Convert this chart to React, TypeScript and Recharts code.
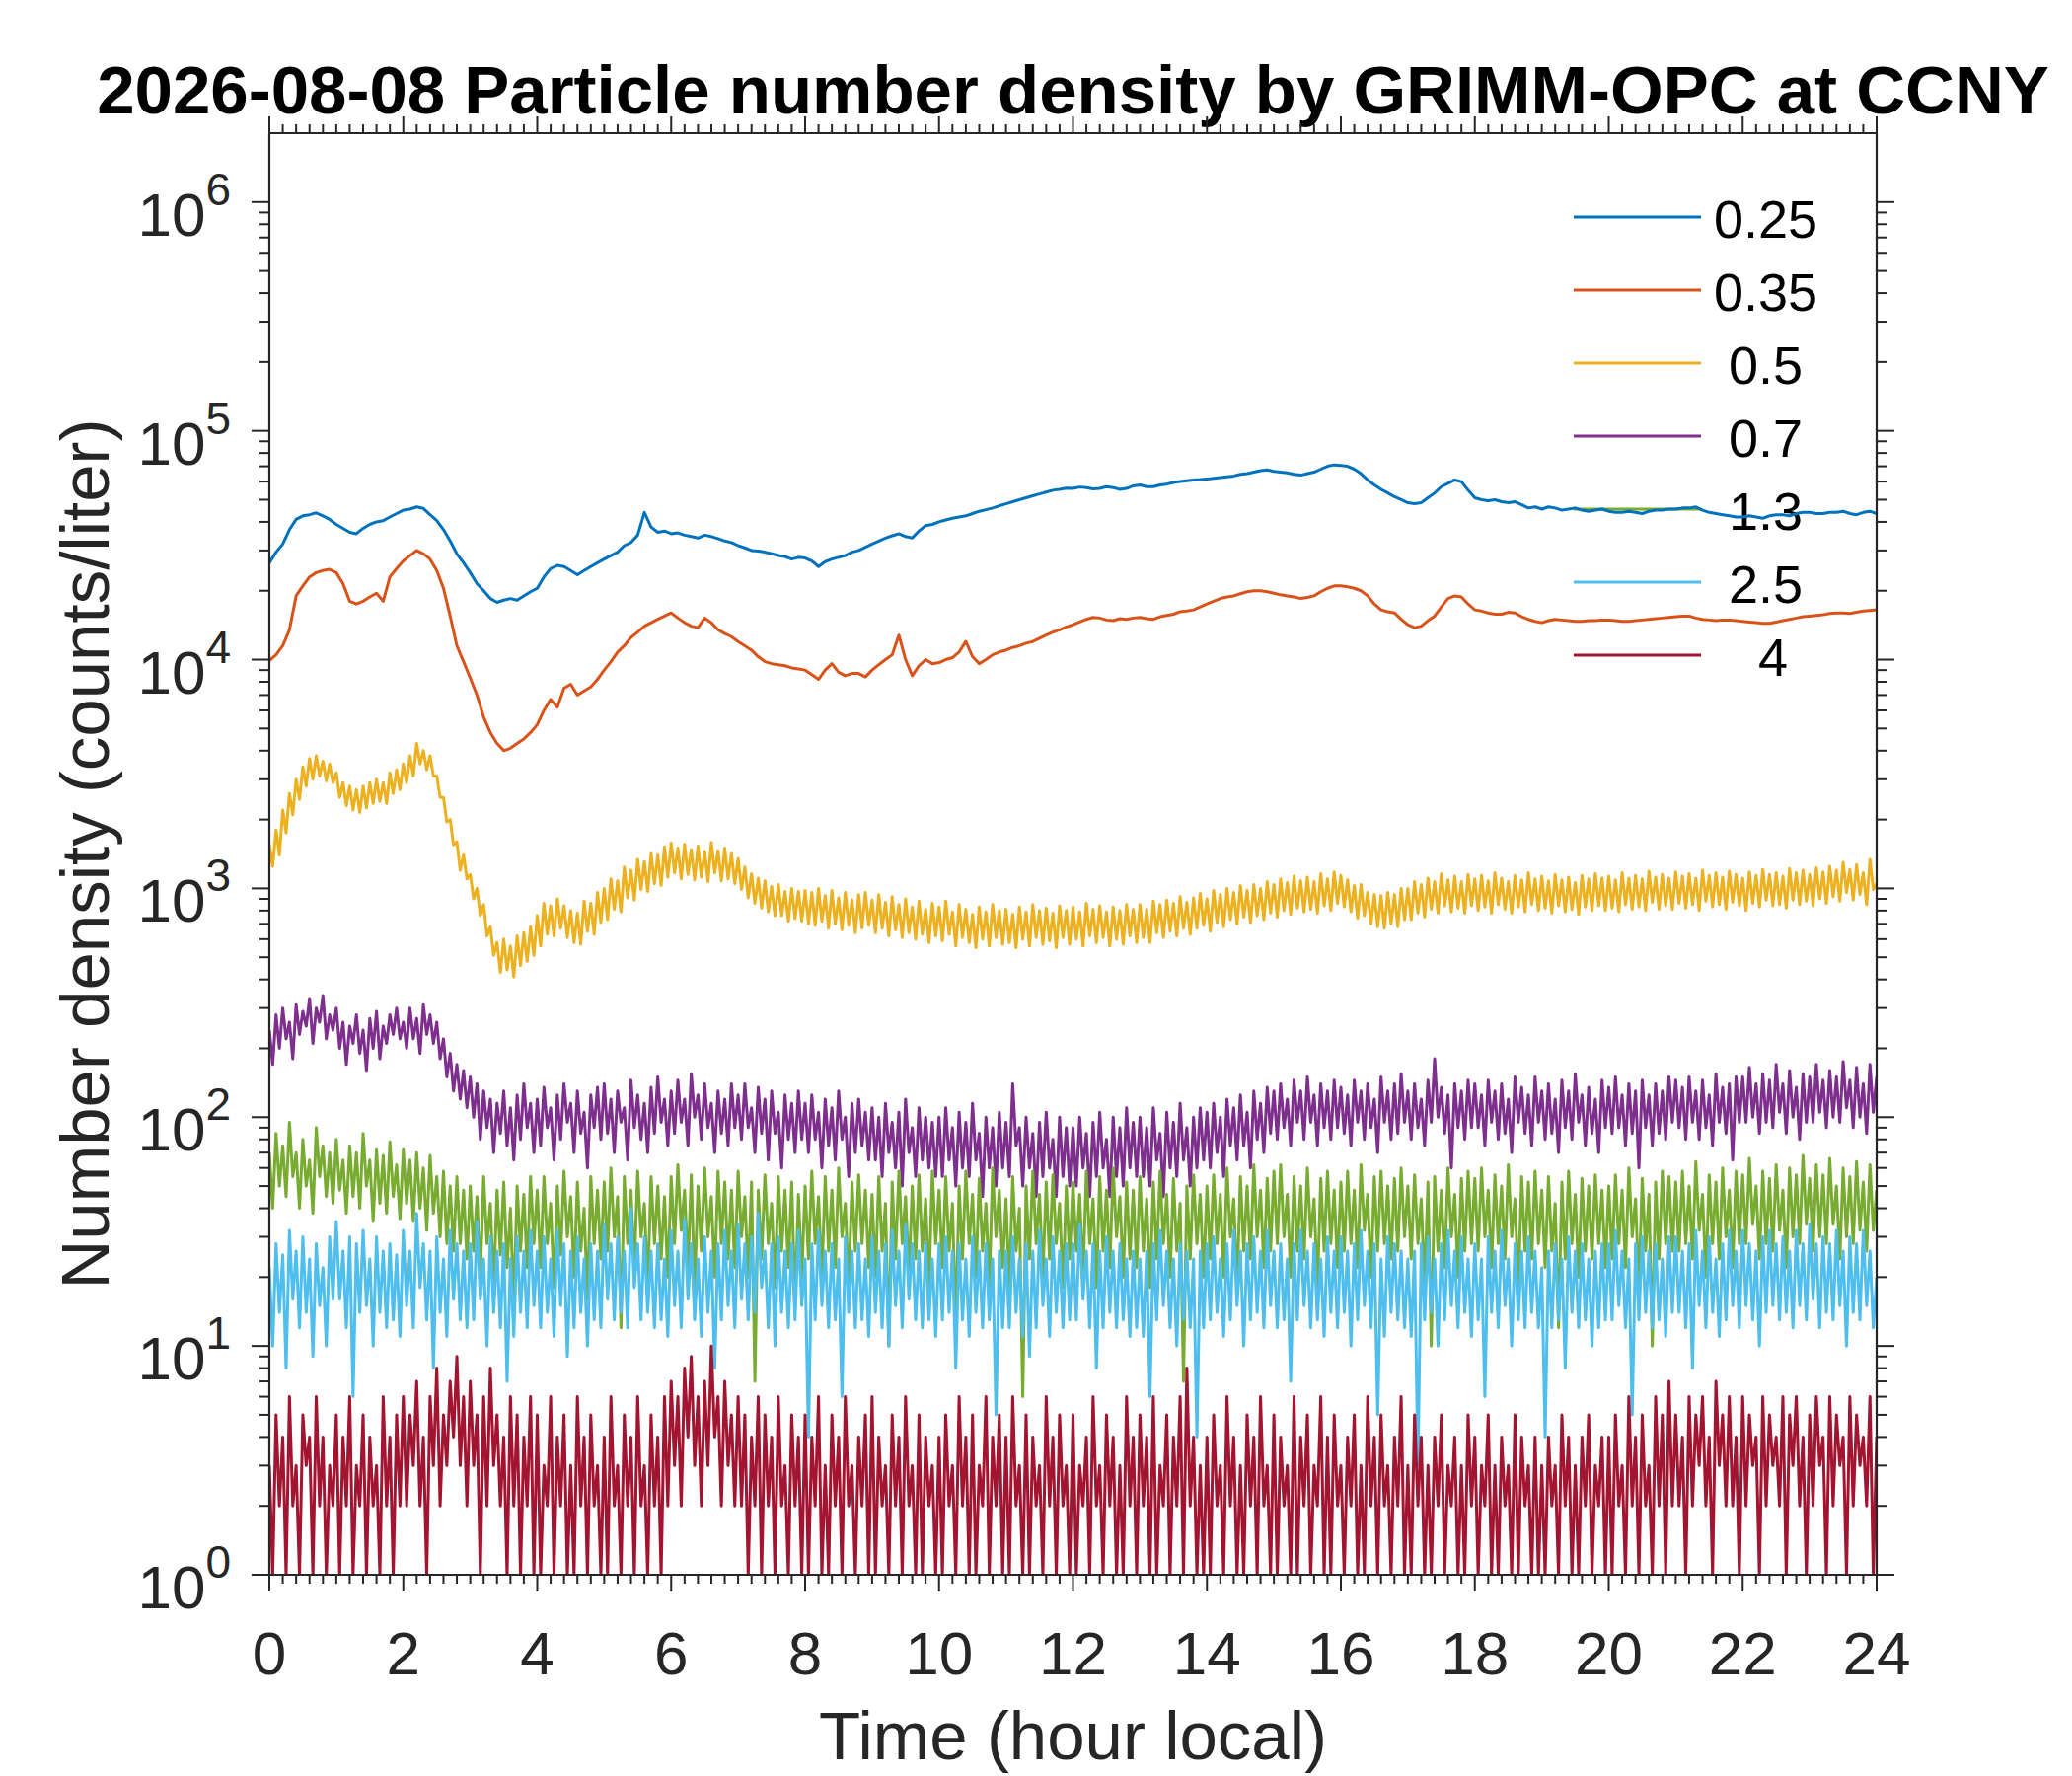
import React from 'react';
import { LineChart, Line, XAxis, YAxis, Customized } from 'recharts';

// ---------- layout / style constants ----------
const W = 2100;
const H = 1800;
const PLOT_LEFT = 273;
const PLOT_RIGHT = 1902;
const PLOT_TOP = 135;
const PLOT_BOTTOM = 1596;
const AXIS_COLOR = '#262626';
const FONT = '"Liberation Sans", Arial, Helvetica, sans-serif';
const LINE_W = 3;

// ---------- data ----------
const TITLE = '2026-08-08 Particle number density by GRIMM-OPC at CCNY';
const X_LABEL = 'Time (hour local)';
const Y_LABEL = 'Number density (counts/liter)';

const SERIES_KEYS = ['d025', 'd035', 'd05', 'd07', 'd13', 'd25', 'd4'];
const SERIES_LABELS = ['0.25', '0.35', ' 0.5', ' 0.7', ' 1.3', ' 2.5', '   4'];
const SERIES_COLORS = ['#0072BD', '#D95319', '#EDB120', '#7E2F8E', '#77AC30', '#4DBEEE', '#A2142F'];

// sampling: noisy channels every 0.05 h, smoother channels every 0.1 h
const FINE_STEP_H = 0.05;
const COARSE_EVERY = 2;

// 0.25 um channel, t = 0, 0.1, ..., 24 (one row per hour)
const D025 = [
  26500, 29500, 32000, 37000, 41000, 42500, 43000, 43800, 42500, 41000,
  39000, 37500, 36000, 35500, 37500, 39000, 40000, 40500, 42000, 43500,
  45000, 45500, 46500, 45800, 43000, 40500, 37000, 33000, 29000, 26500,
  24000, 21500, 20000, 18500, 17800, 18200, 18500, 18200, 19000, 19800,
  20500, 23000, 25000, 25800, 25500, 24500, 23500, 24500, 25500, 26500,
  27500, 28500, 29500, 31500, 32500, 35000, 44000, 38000, 36000, 36500,
  35500, 35800, 35000, 34500, 34000, 35000, 34500, 33800, 33000, 32500,
  31500, 30800, 30000, 29800, 29500, 29000, 28500, 28200, 27500, 28000,
  27800, 27000, 25500, 26800, 27500, 28000, 28500, 29500, 30000, 31000,
  32000, 33000, 34000, 34800, 35500, 34500, 34000, 36500, 38500, 39000,
  40000, 40800, 41500, 42000, 42500, 43500, 44500, 45200, 46000, 47000,
  48000, 49000, 50000, 51000, 52000, 53000, 54000, 55000, 55500, 56200,
  56000, 56800, 56500, 55800, 56000, 57000, 56500, 55500, 56000, 57500,
  58000, 57000, 57000, 58000, 58500, 59500, 60000, 60500, 61000, 61200,
  61500, 62000, 62500, 63000, 63500, 64500, 65000, 66000, 67000, 67500,
  66500, 66000, 65500, 64500, 64000, 65000, 66000, 68000, 70000, 71000,
  70500, 70000, 68000, 65000, 61000, 58000, 55500, 53500, 51500, 50000,
  48500, 48000, 48500, 51000, 53500, 57000, 59000, 61000, 60000, 55000,
  51000, 50000, 49500, 50000, 49000, 48500, 49000, 47500, 46000, 46500,
  45500, 46500, 46000, 45000, 45500, 46000, 45000, 44500, 45000, 45500,
  44500, 44000, 44000, 44500, 44000, 43500, 44500, 45000, 45000, 45500,
  45500, 46000, 46000, 46500, 45000, 44000, 43500, 43000, 42500, 42000,
  42000, 42500, 42000, 41500, 42500, 43000, 43000, 42500, 43500, 44000,
  44000, 43500, 43500, 44000, 44000, 44500, 43500, 43000, 44000, 44500,
  43500,
];

// 0.35 um channel, t = 0, 0.1, ..., 24
const D035 = [
  9900, 10500, 11500, 13500, 19000, 21000, 23000, 24000, 24500, 24800,
  24000, 21500, 18000, 17500, 18000, 18800, 19500, 18000, 23000, 25000,
  27000, 28500, 30000, 29000, 27500, 24500, 20500, 15500, 11500, 9800,
  8300, 7000, 5600, 4800, 4300, 4000, 4100, 4300, 4500, 4800,
  5200, 6000, 6700, 6200, 7500, 7800, 7000, 7300, 7600, 8200,
  9000, 9800, 10800, 11500, 12500, 13200, 14000, 14500, 15000, 15500,
  16000, 15200, 14500, 14000, 13800, 15200, 14500, 13500, 13000, 12600,
  12000, 11500, 11000, 10300, 9800, 9600, 9500, 9400, 9200, 9100,
  9000, 8600, 8200, 9000, 9600, 8800, 8500, 8700, 8700, 8400,
  9000, 9500, 10000, 10500, 12800, 10000, 8500, 9400, 10000, 9600,
  9700, 10000, 10200, 10800, 12000, 10300, 9600, 10000, 10500, 10800,
  11000, 11300, 11500, 11800, 12000, 12400, 12800, 13200, 13500, 13900,
  14200, 14600, 15000, 15300, 15200, 14900, 14800, 15100, 15000, 15200,
  15300, 15100, 15000, 15400, 15600, 15800, 16200, 16300, 16500, 17000,
  17500, 18000, 18500, 18800, 19000, 19400, 19800, 20000, 20000, 19800,
  19500, 19200, 19000, 18800, 18500, 18700, 19000, 19800, 20500, 21000,
  21000, 20800, 20500, 20000, 19000, 17500, 16500, 16200, 16000, 15000,
  14200, 13800, 14000, 14800, 15500, 17000, 18500, 19000, 18800, 17500,
  16500, 16300, 16000, 15800, 15800, 16100, 16000, 15400, 15000, 14700,
  14500, 14800, 15000, 14900, 14800, 14700, 14700, 14800, 14800, 14900,
  14900, 14800, 14700, 14700, 14800, 14900, 15000, 15100, 15200, 15300,
  15400, 15500, 15500, 15200, 15000, 14900, 14800, 14900, 14900, 14800,
  14700, 14600, 14500, 14400, 14400, 14600, 14800, 15000, 15200, 15400,
  15500, 15600, 15700, 15900, 16000, 16000, 15900, 16100, 16300, 16400,
  16500,
];

// 0.5 um channel, t = 0, 0.05, ..., 24 (one row per hour)
const D05 = [
  1550, 1250, 1800, 1400, 2200, 1750, 2600, 2100, 3000, 2450, 3400, 2800, 3700, 3000, 3800, 3100, 3600, 2950, 3500, 2900,
  3200, 2500, 2900, 2300, 2800, 2200, 2700, 2150, 2800, 2250, 2900, 2350, 3000, 2400, 2900, 2350, 3200, 2600, 3300, 2700,
  3500, 2900, 3800, 3100, 4300, 3500, 4000, 3300, 3800, 3100, 3100, 2500, 2500, 1950, 2000, 1550, 1600, 1200, 1400, 1100,
  1150, 900, 1000, 760, 850, 620, 680, 510, 580, 430, 600, 440, 560, 410, 620, 460, 640, 480, 680, 510,
  760, 560, 860, 630, 840, 620, 900, 670, 840, 610, 800, 580, 780, 570, 880, 650, 860, 630, 960, 710,
  1000, 730, 1100, 810, 1080, 790, 1240, 910, 1200, 890, 1340, 990, 1310, 970, 1420, 1050, 1400, 1030, 1520, 1120,
  1580, 1170, 1500, 1100, 1560, 1150, 1480, 1090, 1530, 1120, 1450, 1070, 1590, 1170, 1460, 1080, 1500, 1100, 1420, 1050,
  1350, 990, 1240, 910, 1160, 860, 1110, 820, 1080, 790, 1020, 760, 1040, 760, 970, 720, 1000, 740, 970, 720,
  980, 700, 960, 690, 1000, 720, 930, 670, 980, 700, 910, 660, 960, 690, 890, 640, 940, 670, 960, 690,
  890, 640, 940, 670, 870, 620, 920, 660, 850, 610, 900, 640, 830, 600, 880, 630, 810, 580, 860, 620,
  830, 590, 880, 630, 790, 560, 850, 610, 810, 580, 770, 550, 830, 600, 790, 560, 850, 610, 800, 570,
  810, 580, 770, 550, 830, 600, 790, 560, 850, 610, 800, 570, 820, 590, 780, 550, 840, 610, 800, 570,
  830, 600, 790, 560, 860, 620, 810, 580, 840, 610, 790, 560, 830, 600, 800, 570, 850, 620, 810, 580,
  850, 610, 810, 580, 880, 640, 850, 610, 890, 650, 860, 620, 920, 670, 870, 630, 910, 670, 950, 690,
  900, 650, 980, 710, 940, 680, 1000, 730, 960, 700, 1030, 750, 980, 710, 1040, 760, 1000, 730, 1070, 780,
  1040, 750, 1100, 800, 1060, 770, 1130, 820, 1080, 790, 1120, 810, 1070, 780, 1160, 840, 1100, 800, 1180, 860,
  1140, 830, 1090, 790, 1030, 740, 1040, 760, 960, 700, 940, 680, 930, 670, 960, 700, 940, 680, 1000, 730,
  1000, 730, 1070, 780, 1040, 750, 1110, 810, 1070, 780, 1160, 840, 1090, 790, 1130, 820, 1070, 780, 1150, 840,
  1100, 800, 1140, 830, 1080, 780, 1170, 850, 1110, 810, 1070, 780, 1140, 830, 1090, 790, 1170, 850, 1100, 800,
  1130, 820, 1080, 780, 1150, 840, 1090, 790, 1120, 810, 1060, 770, 1140, 830, 1100, 800, 1160, 840, 1110, 800,
  1130, 820, 1090, 790, 1170, 850, 1110, 810, 1140, 830, 1100, 800, 1190, 870, 1120, 810, 1150, 840, 1110, 810,
  1180, 860, 1130, 820, 1160, 850, 1110, 800, 1200, 880, 1140, 830, 1170, 850, 1120, 810, 1190, 870, 1150, 840,
  1110, 800, 1180, 860, 1140, 830, 1210, 890, 1150, 840, 1170, 850, 1130, 820, 1220, 890, 1170, 850, 1200, 880,
  1150, 840, 1230, 900, 1180, 860, 1250, 920, 1200, 880, 1300, 960, 1210, 890, 1270, 940, 1170, 850, 1340, 990,
  1050,
];

// 0.7 um channel, t = 0, 0.05, ..., 24
const D07 = [
  240, 170, 280, 200, 300, 220, 260, 180, 310, 230, 290, 250, 330, 210, 300, 260, 340, 220, 280, 240,
  300, 200, 260, 170, 250, 210, 280, 190, 240, 160, 270, 200, 290, 180, 250, 210, 280, 230, 300, 220,
  260, 200, 300, 220, 270, 190, 310, 230, 280, 210, 260, 180, 220, 150, 190, 130, 170, 120, 160, 110,
  150, 100, 140, 80, 130, 90, 120, 70, 115, 85, 130, 75, 110, 65, 125, 80, 140, 90, 115, 70,
  120, 75, 135, 90, 110, 65, 125, 80, 140, 95, 115, 70, 130, 85, 105, 60, 125, 90, 135, 80,
  140, 85, 120, 70, 130, 95, 110, 65, 145, 90, 125, 80, 115, 70, 135, 85, 150, 95, 120, 75,
  130, 85, 145, 95, 120, 75, 155, 100, 125, 80, 140, 90, 115, 70, 130, 85, 120, 75, 140, 90,
  125, 80, 140, 90, 110, 70, 135, 85, 120, 65, 130, 85, 105, 60, 125, 80, 115, 70, 130, 80,
  115, 70, 125, 80, 105, 60, 120, 75, 110, 65, 130, 80, 100, 55, 115, 70, 120, 75, 105, 65,
  110, 65, 100, 55, 115, 70, 95, 60, 105, 50, 120, 70, 90, 55, 110, 65, 100, 60, 95, 55,
  100, 55, 110, 65, 90, 50, 105, 60, 95, 55, 115, 65, 85, 45, 100, 60, 90, 50, 105, 60,
  95, 55, 140, 75, 90, 50, 100, 60, 85, 45, 95, 55, 105, 60, 80, 45, 100, 55, 90, 50,
  90, 50, 100, 60, 85, 45, 95, 55, 105, 60, 80, 45, 100, 55, 90, 50, 110, 60, 95, 55,
  100, 55, 90, 50, 110, 65, 85, 45, 105, 60, 95, 55, 115, 65, 90, 50, 100, 60, 110, 65,
  105, 60, 115, 70, 100, 55, 120, 75, 110, 65, 125, 75, 105, 60, 130, 80, 115, 70, 135, 85,
  130, 80, 140, 90, 120, 75, 145, 95, 130, 80, 150, 95, 125, 75, 140, 90, 130, 80, 145, 90,
  135, 85, 125, 75, 145, 95, 130, 80, 140, 90, 120, 70, 150, 95, 130, 80, 140, 85, 155, 95,
  130, 80, 140, 90, 120, 75, 145, 95, 180, 100, 135, 85, 125, 60, 140, 90, 130, 80, 145, 90,
  140, 90, 125, 75, 145, 95, 130, 80, 140, 85, 120, 70, 150, 95, 135, 85, 125, 75, 150, 95,
  130, 80, 140, 85, 120, 70, 145, 90, 130, 80, 155, 95, 125, 75, 135, 85, 120, 70, 145, 90,
  135, 85, 150, 90, 125, 75, 140, 85, 130, 60, 145, 90, 125, 75, 140, 85, 130, 80, 150, 95,
  145, 90, 135, 80, 150, 95, 130, 80, 145, 90, 125, 75, 155, 95, 135, 85, 140, 65, 150, 95,
  150, 95, 165, 100, 140, 85, 155, 95, 145, 90, 170, 105, 140, 85, 160, 100, 135, 80, 155, 95,
  150, 95, 170, 105, 145, 90, 160, 100, 150, 95, 175, 110, 145, 90, 165, 100, 140, 85, 170, 105,
  150,
];

// 1.3 um channel, t = 0, 0.05, ..., 24
const D13 = [
  70, 40, 85, 50, 75, 45, 95, 55, 70, 40, 80, 50, 65, 38, 90, 55, 75, 45, 70, 42,
  80, 48, 65, 38, 75, 45, 70, 40, 85, 50, 65, 35, 72, 42, 68, 38, 78, 45, 62, 36,
  72, 42, 65, 35, 70, 40, 60, 32, 68, 38, 55, 30, 58, 28, 50, 26, 55, 28, 48, 24,
  50, 26, 45, 20, 55, 28, 42, 18, 48, 25, 52, 22, 40, 15, 50, 26, 46, 22, 55, 28,
  48, 22, 55, 28, 42, 18, 50, 25, 58, 30, 45, 20, 52, 26, 40, 16, 55, 28, 48, 24,
  52, 26, 60, 30, 45, 12, 55, 28, 48, 22, 58, 30, 42, 18, 55, 28, 50, 24, 45, 20,
  55, 28, 62, 32, 48, 22, 56, 18, 50, 26, 60, 30, 45, 20, 58, 28, 52, 24, 48, 22,
  58, 30, 45, 20, 52, 7, 48, 24, 56, 28, 42, 18, 55, 26, 48, 22, 52, 15, 46, 20,
  50, 24, 58, 28, 45, 20, 55, 26, 48, 22, 60, 30, 42, 18, 52, 26, 56, 28, 48, 22,
  46, 20, 55, 26, 42, 10, 52, 24, 58, 28, 45, 20, 50, 24, 56, 26, 44, 18, 58, 28,
  48, 22, 55, 26, 42, 12, 50, 24, 58, 28, 46, 20, 54, 26, 42, 18, 60, 30, 48, 22,
  44, 18, 55, 26, 40, 6, 50, 24, 58, 28, 46, 20, 52, 24, 56, 28, 42, 18, 50, 24,
  52, 26, 46, 20, 58, 28, 44, 18, 55, 26, 48, 22, 60, 30, 45, 20, 52, 24, 48, 22,
  55, 26, 44, 18, 52, 24, 58, 28, 46, 20, 54, 26, 42, 7, 50, 24, 56, 28, 46, 20,
  50, 24, 56, 28, 46, 20, 60, 30, 44, 18, 55, 26, 50, 24, 62, 30, 48, 22, 54, 26,
  58, 28, 62, 30, 46, 20, 55, 26, 50, 24, 60, 30, 44, 18, 54, 26, 58, 28, 48, 22,
  52, 26, 58, 28, 48, 22, 62, 32, 46, 20, 55, 26, 58, 28, 50, 24, 54, 26, 60, 30,
  50, 24, 56, 28, 44, 18, 52, 10, 55, 26, 48, 22, 60, 30, 46, 20, 54, 26, 58, 28,
  54, 26, 60, 30, 48, 22, 56, 28, 50, 24, 62, 30, 44, 18, 55, 26, 52, 24, 58, 28,
  48, 22, 55, 26, 42, 12, 52, 24, 58, 28, 46, 20, 54, 26, 50, 24, 56, 28, 48, 22,
  50, 24, 56, 28, 48, 22, 60, 30, 44, 18, 54, 26, 46, 10, 52, 24, 58, 28, 55, 26,
  52, 26, 58, 28, 50, 24, 64, 32, 46, 20, 56, 28, 52, 24, 60, 30, 48, 22, 58, 28,
  56, 28, 66, 34, 50, 24, 58, 28, 54, 26, 62, 32, 48, 22, 60, 30, 56, 28, 68, 34,
  54, 26, 62, 30, 56, 28, 66, 34, 50, 24, 60, 30, 55, 28, 64, 32, 52, 26, 62, 32,
  48,
];

// 2.5 um channel, t = 0, 0.05, ..., 24
const D25 = [
  22, 10, 28, 14, 25, 8, 32, 16, 26, 12, 30, 14, 24, 9, 28, 15, 22, 10, 30, 16,
  35, 16, 26, 12, 30, 6, 28, 14, 32, 15, 24, 10, 30, 14, 26, 12, 28, 13, 25, 11,
  32, 15, 26, 12, 38, 18, 28, 13, 26, 8, 30, 14, 24, 11, 32, 16, 28, 13, 26, 12,
  28, 13, 35, 16, 24, 10, 30, 14, 26, 12, 28, 7, 24, 11, 30, 14, 26, 12, 32, 15,
  26, 12, 30, 14, 24, 11, 32, 15, 28, 9, 26, 12, 30, 14, 24, 10, 28, 13, 26, 12,
  34, 16, 28, 13, 30, 14, 26, 12, 40, 18, 28, 13, 30, 14, 26, 12, 28, 13, 24, 11,
  32, 15, 26, 12, 36, 16, 28, 13, 24, 11, 30, 14, 26, 8, 28, 13, 32, 15, 26, 12,
  34, 16, 28, 13, 30, 14, 38, 18, 26, 12, 28, 10, 30, 14, 26, 12, 28, 13, 32, 15,
  24, 4, 28, 13, 32, 15, 26, 12, 28, 13, 24, 6, 30, 14, 26, 12, 28, 13, 24, 11,
  30, 14, 26, 12, 28, 10, 32, 15, 26, 12, 34, 16, 28, 13, 26, 12, 28, 13, 24, 11,
  28, 13, 30, 14, 26, 8, 28, 13, 24, 11, 30, 14, 26, 12, 28, 13, 24, 5, 26, 12,
  26, 12, 30, 14, 24, 11, 28, 9, 26, 12, 32, 15, 24, 11, 30, 14, 26, 12, 28, 13,
  28, 13, 34, 16, 26, 12, 28, 8, 26, 12, 30, 14, 26, 12, 28, 13, 24, 11, 26, 12,
  24, 11, 26, 6, 28, 13, 32, 15, 26, 12, 24, 10, 28, 13, 26, 12, 24, 4, 26, 12,
  28, 13, 30, 14, 24, 11, 28, 13, 32, 15, 26, 10, 28, 13, 30, 14, 26, 12, 32, 15,
  26, 12, 28, 13, 24, 7, 28, 13, 32, 15, 26, 12, 28, 13, 24, 11, 30, 14, 26, 12,
  30, 14, 26, 10, 28, 13, 32, 15, 26, 12, 28, 5, 24, 11, 30, 14, 28, 13, 26, 12,
  24, 11, 26, 3, 28, 13, 30, 14, 24, 10, 28, 13, 32, 15, 26, 12, 30, 14, 24, 11,
  28, 13, 24, 6, 30, 14, 26, 12, 32, 15, 24, 10, 28, 13, 26, 12, 30, 14, 26, 12,
  22, 4, 26, 12, 28, 13, 24, 8, 30, 14, 26, 12, 28, 13, 24, 10, 26, 12, 28, 13,
  28, 13, 32, 15, 26, 12, 24, 5, 28, 13, 30, 14, 26, 12, 28, 13, 24, 11, 30, 14,
  30, 14, 26, 12, 28, 8, 32, 15, 26, 12, 30, 14, 24, 11, 28, 13, 32, 15, 26, 12,
  32, 15, 28, 13, 26, 10, 30, 14, 32, 15, 28, 13, 30, 14, 26, 12, 32, 15, 28, 13,
  34, 16, 28, 12, 30, 14, 28, 13, 32, 15, 26, 10, 30, 14, 28, 13, 32, 15, 26, 12,
  20,
];

// 4 um channel, t = 0, 0.05, ..., 24
const D4 = [
  3, 1, 5, 2, 4, 1, 6, 2, 3, 1, 5, 3, 4, 1, 6, 2, 4, 1, 3, 2,
  5, 1, 4, 2, 6, 1, 3, 2, 5, 1, 4, 2, 3, 1, 6, 2, 4, 1, 5, 2,
  6, 2, 5, 3, 7, 2, 4, 1, 6, 3, 8, 2, 5, 3, 7, 4, 9, 3, 6, 2,
  7, 3, 5, 1, 6, 2, 8, 3, 5, 2, 4, 1, 6, 2, 5, 1, 4, 2, 6, 1,
  5, 1, 3, 2, 6, 1, 4, 2, 5, 1, 3, 1, 6, 2, 4, 1, 5, 2, 3, 1,
  4, 1, 6, 2, 3, 1, 5, 2, 4, 1, 6, 2, 3, 1, 5, 2, 4, 1, 6, 2,
  7, 3, 6, 2, 8, 4, 9, 3, 6, 2, 7, 3, 10, 4, 6, 2, 7, 3, 5, 2,
  6, 2, 5, 1, 4, 2, 6, 1, 5, 2, 4, 1, 6, 2, 3, 1, 5, 2, 4, 1,
  5, 1, 4, 2, 6, 1, 3, 1, 5, 2, 4, 1, 6, 2, 3, 1, 4, 2, 5, 1,
  6, 1, 4, 2, 3, 1, 5, 2, 4, 1, 6, 2, 3, 1, 5, 1, 4, 2, 3, 1,
  4, 1, 5, 2, 3, 1, 6, 2, 4, 1, 5, 1, 3, 2, 6, 1, 4, 2, 5, 1,
  4, 1, 6, 2, 3, 1, 5, 1, 4, 2, 3, 1, 6, 2, 4, 1, 5, 2, 3, 1,
  5, 1, 3, 2, 4, 1, 6, 2, 3, 1, 5, 2, 4, 1, 3, 1, 6, 2, 4, 1,
  5, 2, 4, 1, 6, 1, 3, 2, 5, 1, 4, 2, 6, 1, 8, 2, 4, 1, 3, 1,
  4, 1, 5, 2, 3, 1, 6, 2, 4, 1, 3, 1, 5, 2, 4, 1, 6, 2, 3, 1,
  5, 1, 4, 2, 3, 1, 6, 1, 4, 2, 5, 1, 3, 2, 6, 1, 4, 1, 5, 2,
  3, 1, 4, 2, 5, 1, 3, 1, 6, 2, 4, 1, 5, 2, 3, 1, 4, 2, 6, 1,
  3, 1, 5, 2, 4, 1, 3, 1, 4, 2, 5, 1, 3, 2, 4, 1, 3, 1, 5, 2,
  4, 1, 3, 2, 5, 1, 3, 1, 4, 2, 3, 1, 5, 1, 4, 2, 3, 1, 4, 1,
  3, 1, 4, 2, 3, 1, 5, 2, 4, 1, 3, 1, 4, 2, 5, 1, 3, 2, 4, 1,
  4, 1, 5, 2, 3, 1, 6, 2, 4, 1, 5, 2, 3, 1, 6, 2, 5, 1, 7, 2,
  5, 2, 4, 1, 6, 2, 5, 3, 6, 2, 4, 1, 7, 3, 5, 2, 6, 2, 4, 1,
  6, 2, 5, 3, 4, 1, 6, 2, 5, 3, 4, 2, 6, 1, 5, 3, 6, 2, 4, 1,
  5, 2, 6, 3, 4, 1, 6, 2, 5, 3, 4, 1, 6, 2, 5, 3, 4, 2, 6, 1,
  4,
];

// axis ticks
const X_DOMAIN = [0, 24];
const X_MAJOR_STEP = 2;
const X_TICKS = Array.from({ length: 121 }, (_, k) => k / 5);
const Y_DOMAIN = [1, 2000000];
const Y_DECADES = [1, 10, 100, 1000, 10000, 100000, 1000000];
const Y_TICKS = Y_DECADES.flatMap((d) =>
  d === 1000000 ? [d] : [1, 2, 3, 4, 5, 6, 7, 8, 9].map((m) => m * d)
);

// table for the chart
const rows = D05.map((_, i) => {
  const coarse = i % COARSE_EVERY === 0;
  const r: Record<string, number | null> = { t: Math.round(i * FINE_STEP_H * 100) / 100 };
  r.d025 = coarse ? D025[i / COARSE_EVERY] : null;
  r.d035 = coarse ? D035[i / COARSE_EVERY] : null;
  r.d05 = D05[i];
  r.d07 = D07[i];
  r.d13 = D13[i];
  r.d25 = D25[i];
  r.d4 = D4[i];
  return r;
});

// ---------- tick renderers ----------
const isXMajor = (v: number) => Math.abs(v / X_MAJOR_STEP - Math.round(v / X_MAJOR_STEP)) < 1e-6;
const isDecade = (v: number) => Math.abs(Math.log10(v) - Math.round(Math.log10(v))) < 1e-9;

const BottomTick = (props: any) => {
  const { x, payload } = props;
  const v = payload.value as number;
  const major = isXMajor(v);
  return (
    <g>
      <line x1={x} x2={x} y1={PLOT_BOTTOM} y2={PLOT_BOTTOM + (major ? 17 : 9)} stroke={AXIS_COLOR} strokeWidth={2} />
      {major && (
        <text x={x} y={1697} textAnchor="middle" fontFamily={FONT} fontSize={62} fill={AXIS_COLOR}>
          {Math.round(v)}
        </text>
      )}
    </g>
  );
};

const TopTick = (props: any) => {
  const { x, payload } = props;
  const major = isXMajor(payload.value);
  return <line x1={x} x2={x} y1={PLOT_TOP} y2={PLOT_TOP - (major ? 17 : 9)} stroke={AXIS_COLOR} strokeWidth={2} />;
};

const LeftTick = (props: any) => {
  const { y, payload } = props;
  const v = payload.value as number;
  const major = isDecade(v);
  const exp = Math.round(Math.log10(v));
  return (
    <g>
      <line x1={PLOT_LEFT - (major ? 18 : 10)} x2={PLOT_LEFT} y1={y} y2={y} stroke={AXIS_COLOR} strokeWidth={2} />
      {major && (
        <text x={234} y={y + 34} textAnchor="end" fontFamily={FONT} fontSize={62} fill={AXIS_COLOR}>
          10
          <tspan dy={-31} fontSize={46}>
            {exp}
          </tspan>
        </text>
      )}
    </g>
  );
};

const RightTick = (props: any) => {
  const { y, payload } = props;
  const major = isDecade(payload.value);
  return <line x1={PLOT_RIGHT} x2={PLOT_RIGHT + (major ? 18 : 10)} y1={y} y2={y} stroke={AXIS_COLOR} strokeWidth={2} />;
};

// ---------- annotations (title, axis labels, legend) ----------
const LEGEND_LINE_X1 = 1595;
const LEGEND_LINE_X2 = 1724;
const LEGEND_TEXT_X = 1737;
const LEGEND_Y0 = 220;
const LEGEND_DY = 74;

const Annotations = () => (
  <g>
    <text x={(PLOT_LEFT + PLOT_RIGHT) / 2} y={115} textAnchor="middle" fontFamily={FONT} fontWeight="bold" fontSize={69} fill="#000">
      {TITLE}
    </text>
    <text x={(PLOT_LEFT + PLOT_RIGHT) / 2} y={1783} textAnchor="middle" fontFamily={FONT} fontSize={69} fill={AXIS_COLOR}>
      {X_LABEL}
    </text>
    <text
      transform={`translate(110, ${(PLOT_TOP + PLOT_BOTTOM) / 2}) rotate(-90)`}
      textAnchor="middle"
      fontFamily={FONT}
      fontSize={69}
      fill={AXIS_COLOR}
    >
      {Y_LABEL}
    </text>
    {SERIES_LABELS.map((lab, i) => {
      const y = LEGEND_Y0 + i * LEGEND_DY;
      return (
        <g key={lab}>
          <line x1={LEGEND_LINE_X1} x2={LEGEND_LINE_X2} y1={y} y2={y} stroke={SERIES_COLORS[i]} strokeWidth={LINE_W} />
          <text x={LEGEND_TEXT_X} y={y + 21} fontFamily={FONT} fontSize={54} fill="#000" style={{ whiteSpace: 'pre' }}>
            {lab}
          </text>
        </g>
      );
    })}
  </g>
);

export default function App() {
  return (
    <div style={{ width: W, height: H, background: '#fff' }}>
      <style>{'body{margin:0;background:#fff;}'}</style>
      <LineChart width={W} height={H} data={rows} margin={{ top: 0, right: 0, bottom: 0, left: 0 }}>
        <XAxis
          xAxisId="b"
          dataKey="t"
          type="number"
          domain={X_DOMAIN}
          ticks={X_TICKS}
          interval={0}
          height={H - PLOT_BOTTOM}
          tickLine={false}
          axisLine={{ stroke: AXIS_COLOR, strokeWidth: 2.2 }}
          tick={<BottomTick />}
          allowDataOverflow
        />
        <XAxis
          xAxisId="t"
          dataKey="t"
          orientation="top"
          type="number"
          domain={X_DOMAIN}
          ticks={X_TICKS}
          interval={0}
          height={PLOT_TOP}
          tickLine={false}
          axisLine={{ stroke: AXIS_COLOR, strokeWidth: 2.2 }}
          tick={<TopTick />}
          allowDataOverflow
        />
        <YAxis
          yAxisId="l"
          scale="log"
          domain={Y_DOMAIN}
          ticks={Y_TICKS}
          interval={0}
          width={PLOT_LEFT}
          tickLine={false}
          axisLine={{ stroke: AXIS_COLOR, strokeWidth: 2.2 }}
          tick={<LeftTick />}
          allowDataOverflow
        />
        <YAxis
          yAxisId="r"
          orientation="right"
          scale="log"
          domain={Y_DOMAIN}
          ticks={Y_TICKS}
          interval={0}
          width={W - PLOT_RIGHT}
          tickLine={false}
          axisLine={{ stroke: AXIS_COLOR, strokeWidth: 2.2 }}
          tick={<RightTick />}
          allowDataOverflow
        />
        {SERIES_KEYS.map((k, i) => (
          <Line
            key={k}
            xAxisId="b"
            yAxisId="l"
            type="linear"
            dataKey={k}
            name={SERIES_LABELS[i].trim()}
            stroke={SERIES_COLORS[i]}
            strokeWidth={LINE_W}
            strokeLinejoin="round"
            dot={false}
            activeDot={false}
            connectNulls
            isAnimationActive={false}
          />
        ))}
        <Customized component={Annotations} />
      </LineChart>
    </div>
  );
}
